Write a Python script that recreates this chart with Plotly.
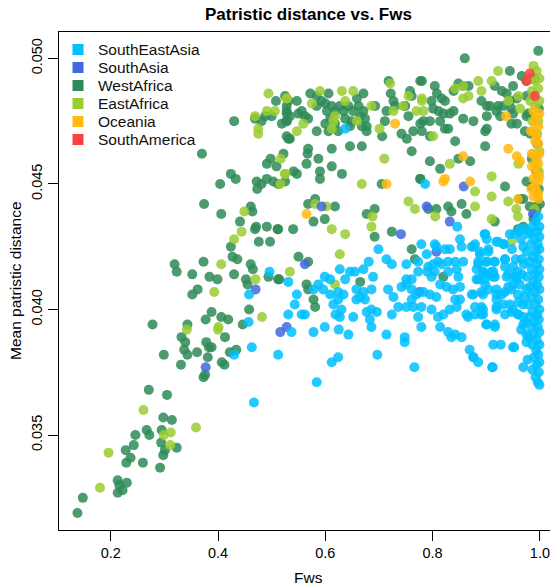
import plotly.graph_objects as go

# ---------------- data ----------------
regions = ["SouthEastAsia", "SouthAsia", "WestAfrica", "EastAfrica", "Oceania", "SouthAmerica"]
colors = ["#00BFFF", "#4169E1", "#2E8B57", "#9ACD32", "#FFB90F", "#FF4040"]

x_ticks = [0.2, 0.4, 0.6, 0.8, 1.0]
x_tick_labels = ["0.2", "0.4", "0.6", "0.8", "1.0"]
y_ticks = [0.035, 0.040, 0.045, 0.050]
y_tick_labels = ["0.035", "0.040", "0.045", "0.050"]

wa_pts = [
    (0.138, 0.0319), (0.148, 0.0325), (0.213, 0.0332), (0.216, 0.0330), (0.213, 0.0327), (0.222, 0.0328),
    (0.230, 0.0331), (0.229, 0.0339), (0.237, 0.0341), (0.260, 0.0339), (0.228, 0.0344), (0.243, 0.0346),
    (0.246, 0.0350), (0.267, 0.0352), (0.272, 0.0350), (0.292, 0.0337), (0.294, 0.0347), (0.298, 0.0342),
    (0.301, 0.0344), (0.323, 0.0345), (0.298, 0.0357), (0.314, 0.0356), (0.295, 0.0352), (0.271, 0.0368),
    (0.305, 0.0366), (0.299, 0.0382), (0.331, 0.0378), (0.332, 0.0389), (0.339, 0.0387), (0.337, 0.0384),
    (0.343, 0.0382), (0.361, 0.0383), (0.378, 0.0387), (0.383, 0.0385), (0.388, 0.0385), (0.381, 0.0381),
    (0.373, 0.0373), (0.376, 0.0374), (0.413, 0.0389), (0.407, 0.0379), (0.412, 0.0378), (0.422, 0.0383),
    (0.434, 0.0384),
    (0.404, 0.0450), (0.374, 0.0442), (0.406, 0.0438), (0.461, 0.0441), (0.464, 0.0439), (0.441, 0.0435),
    (0.471, 0.0433), (0.469, 0.0432), (0.491, 0.0433), (0.511, 0.0432), (0.476, 0.0427), (0.497, 0.0427),
    (0.424, 0.0425), (0.427, 0.0421), (0.436, 0.0420), (0.319, 0.0418), (0.323, 0.0415), (0.352, 0.0414),
    (0.373, 0.0419), (0.384, 0.0413), (0.399, 0.0412), (0.430, 0.0414), (0.461, 0.0418), (0.465, 0.0416),
    (0.452, 0.0412), (0.455, 0.0410), (0.494, 0.0413), (0.514, 0.0412), (0.362, 0.0408), (0.352, 0.0406),
    (0.458, 0.0400), (0.388, 0.0399), (0.377, 0.0396), (0.406, 0.0397), (0.419, 0.0396), (0.446, 0.0394),
    (0.278, 0.0394), (0.343, 0.0394),
    (0.430, 0.0475), (0.370, 0.0462), (0.424, 0.0454), (0.433, 0.0452), (0.472, 0.0451), (0.481, 0.0450),
    (0.491, 0.0452), (0.473, 0.0448), (0.503, 0.0451), (0.512, 0.0450), (0.491, 0.0458), (0.498, 0.0460),
    (0.509, 0.0457), (0.522, 0.0462), (0.469, 0.0476), (0.481, 0.0475), (0.488, 0.0477), (0.500, 0.0477),
    (0.508, 0.0483), (0.519, 0.0474), (0.528, 0.0481), (0.528, 0.0478), (0.528, 0.0475), (0.528, 0.0469),
    (0.525, 0.0485), (0.531, 0.0483), (0.547, 0.0483), (0.528, 0.0479), (0.534, 0.0477), (0.528, 0.0475),
    (0.550, 0.0478), (0.556, 0.0479), (0.568, 0.0476), (0.562, 0.0477), (0.572, 0.0486), (0.584, 0.0485),
    (0.584, 0.0481), (0.593, 0.0483), (0.600, 0.0482), (0.606, 0.0486), (0.603, 0.0479), (0.609, 0.0476),
    (0.612, 0.0481), (0.618, 0.0479), (0.627, 0.0481), (0.634, 0.0479), (0.637, 0.0476), (0.643, 0.0481),
    (0.649, 0.0475), (0.652, 0.0479), (0.659, 0.0484), (0.662, 0.0481), (0.665, 0.0477), (0.671, 0.0486),
    (0.671, 0.0479), (0.674, 0.0476), (0.677, 0.0473), (0.668, 0.0473), (0.646, 0.0473), (0.618, 0.0474),
    (0.624, 0.0471), (0.600, 0.0474), (0.606, 0.0471), (0.584, 0.0471), (0.531, 0.0468), (0.534, 0.0468),
    (0.677, 0.0471), (0.693, 0.0481), (0.718, 0.0491), (0.722, 0.0486), (0.727, 0.0483), (0.730, 0.0481),
    (0.758, 0.0487), (0.761, 0.0485), (0.777, 0.0491), (0.711, 0.0475), (0.714, 0.0479), (0.749, 0.0481),
    (0.755, 0.0477), (0.764, 0.0471), (0.752, 0.0468), (0.742, 0.0470), (0.777, 0.0474), (0.780, 0.0471),
    (0.706, 0.0469), (0.568, 0.0464), (0.567, 0.0462), (0.587, 0.0460), (0.612, 0.0464), (0.646, 0.0465),
    (0.668, 0.0465), (0.565, 0.0458), (0.541, 0.0455), (0.547, 0.0454), (0.590, 0.0455), (0.590, 0.0452),
    (0.612, 0.0457), (0.631, 0.0454), (0.525, 0.0451), (0.761, 0.0463), (0.777, 0.0452), (0.705, 0.0450),
    (0.997, 0.0503), (0.860, 0.0500), (0.944, 0.0495), (0.966, 0.0493), (0.780, 0.0491), (0.804, 0.0489),
    (0.848, 0.0490), (0.857, 0.0489), (0.867, 0.0489), (0.839, 0.0487), (0.808, 0.0486), (0.916, 0.0489),
    (0.929, 0.0487), (0.938, 0.0486), (0.950, 0.0489), (0.922, 0.0481), (0.932, 0.0481), (0.944, 0.0483),
    (0.957, 0.0484), (0.975, 0.0491), (0.975, 0.0485), (0.798, 0.0483), (0.817, 0.0484), (0.823, 0.0483),
    (0.801, 0.0480), (0.811, 0.0479), (0.820, 0.0478), (0.832, 0.0478), (0.839, 0.0479), (0.795, 0.0475),
    (0.814, 0.0475), (0.857, 0.0476), (0.876, 0.0475), (0.891, 0.0483), (0.901, 0.0481), (0.907, 0.0481),
    (0.901, 0.0477), (0.919, 0.0479), (0.926, 0.0477), (0.947, 0.0480), (0.950, 0.0478), (0.947, 0.0474),
    (0.957, 0.0474), (0.972, 0.0471), (0.975, 0.0477), (0.783, 0.0475), (0.823, 0.0472), (0.829, 0.0472),
    (0.795, 0.0469), (0.898, 0.0471), (0.901, 0.0472), (0.842, 0.0467), (0.898, 0.0465), (0.795, 0.0459),
    (0.814, 0.0456), (0.848, 0.0460), (0.870, 0.0459), (0.777, 0.0452), (0.935, 0.0449), (0.975, 0.0451),
    (0.963, 0.0444),
    (0.512, 0.0432), (0.540, 0.0432), (0.568, 0.0442), (0.578, 0.0435), (0.599, 0.0436), (0.618, 0.0441),
    (0.677, 0.0438), (0.692, 0.0440), (0.692, 0.0429), (0.724, 0.0431), (0.761, 0.0424), (0.767, 0.0420),
    (0.792, 0.0440), (0.807, 0.0440), (0.829, 0.0441), (0.835, 0.0439), (0.854, 0.0442), (0.863, 0.0438),
    (0.916, 0.0435), (0.550, 0.0421), (0.568, 0.0419), (0.512, 0.0412), (0.565, 0.0410), (0.568, 0.0408),
    (0.578, 0.0404), (0.581, 0.0401), (0.665, 0.0411), (0.820, 0.0413), (0.959, 0.0432), (0.969, 0.0433),
    (0.993, 0.0441), (0.990, 0.0438), (0.581, 0.0444), (0.981, 0.0441),
    (0.969, 0.0444), (0.985, 0.0449), (0.988, 0.0436), (0.994, 0.0440), (1.000, 0.0442),
    (0.982, 0.0470), (0.995, 0.0466), (0.990, 0.0492), (0.978, 0.0478), (0.998, 0.0480), (0.985, 0.0460),
    (0.993, 0.0455), (0.998, 0.0448),
]

ea_pts = [
    (0.180, 0.0329), (0.196, 0.0343), (0.261, 0.0360), (0.299, 0.0350), (0.312, 0.0351), (0.311, 0.0346),
    (0.359, 0.0353), (0.342, 0.0392), (0.400, 0.0392),
    (0.449, 0.0439), (0.444, 0.0431), (0.430, 0.0428), (0.406, 0.0418), (0.470, 0.0412), (0.393, 0.0407),
    (0.482, 0.0397), (0.401, 0.0393), (0.516, 0.0450),
    (0.494, 0.0486), (0.469, 0.0477), (0.491, 0.0479), (0.506, 0.0479), (0.475, 0.0472), (0.475, 0.0470),
    (0.528, 0.0484), (0.517, 0.0460), (0.525, 0.0454),
    (0.528, 0.0484), (0.590, 0.0487), (0.631, 0.0487), (0.652, 0.0487), (0.637, 0.0483), (0.575, 0.0482),
    (0.618, 0.0477), (0.615, 0.0475), (0.612, 0.0472), (0.659, 0.0475), (0.686, 0.0481), (0.547, 0.0471),
    (0.559, 0.0474), (0.721, 0.0490), (0.755, 0.0485), (0.745, 0.0481), (0.727, 0.0479), (0.770, 0.0479),
    (0.780, 0.0483), (0.701, 0.0472), (0.710, 0.0460), (0.668, 0.0450), (0.525, 0.0454),
    (0.922, 0.0495), (0.885, 0.0491), (0.910, 0.0491), (0.842, 0.0488), (0.857, 0.0489), (0.891, 0.0487),
    (0.857, 0.0484), (0.867, 0.0485), (0.780, 0.0484), (0.783, 0.0479), (0.960, 0.0485), (0.963, 0.0480),
    (0.941, 0.0483), (0.801, 0.0469), (0.832, 0.0458), (0.960, 0.0458), (0.910, 0.0453), (0.879, 0.0447),
    (0.910, 0.0445),
    (0.581, 0.0442), (0.602, 0.0441), (0.612, 0.0432), (0.637, 0.0430), (0.686, 0.0433), (0.688, 0.0437),
    (0.627, 0.0422), (0.534, 0.0415), (0.618, 0.0410), (0.755, 0.0443), (0.767, 0.0440), (0.805, 0.0437),
    (0.879, 0.0441), (0.910, 0.0436), (0.941, 0.0443), (0.956, 0.0440), (0.959, 0.0437), (0.947, 0.0427),
    (0.990, 0.0440),
    (0.988, 0.0497), (0.994, 0.0495), (0.991, 0.0491), (0.985, 0.0487), (0.997, 0.0488), (0.988, 0.0485),
    (0.991, 0.0481), (0.997, 0.0475), (0.999, 0.0492), (0.982, 0.0483), (0.995, 0.0470), (0.999, 0.0463),
    (0.993, 0.0459), (0.998, 0.0455), (0.986, 0.0475), (0.999, 0.0483), (0.980, 0.0492),
]

sa_pts = [
    (0.377, 0.0377), (0.516, 0.0391), (0.470, 0.0408), (0.858, 0.0449), (0.593, 0.0441), (0.789, 0.0441),
    (0.832, 0.0435), (0.741, 0.0430), (0.807, 0.0423), (0.562, 0.0418), (0.776, 0.0407), (0.528, 0.0393),
    (0.987, 0.0438),
]

sea_pts = [
    (0.430, 0.0382), (0.463, 0.0385), (0.467, 0.0363), (0.512, 0.0382), (0.496, 0.0415), (0.458, 0.0406),
    (0.457, 0.0395), (0.637, 0.0472), (0.786, 0.0450),
    (0.846, 0.0433), (0.897, 0.0430), (0.851, 0.0428), (0.919, 0.0427), (0.933, 0.0426), (0.944, 0.0430),
    (0.953, 0.0430), (0.962, 0.0431), (0.972, 0.0432), (0.981, 0.0431), (0.699, 0.0424), (0.779, 0.0426),
    (0.804, 0.0426), (0.807, 0.0425), (0.823, 0.0424), (0.832, 0.0424), (0.854, 0.0425), (0.873, 0.0425),
    (0.888, 0.0422), (0.904, 0.0423), (0.879, 0.0426), (0.789, 0.0422), (0.935, 0.0420), (0.948, 0.0424),
    (0.969, 0.0425), (0.681, 0.0419), (0.714, 0.0420), (0.724, 0.0418), (0.751, 0.0418), (0.773, 0.0419),
    (0.792, 0.0417), (0.801, 0.0418), (0.810, 0.0419), (0.817, 0.0418), (0.829, 0.0419), (0.842, 0.0419),
    (0.857, 0.0419), (0.885, 0.0419), (0.900, 0.0419), (0.915, 0.0419), (0.627, 0.0416), (0.646, 0.0415),
    (0.655, 0.0415), (0.671, 0.0416), (0.689, 0.0413), (0.599, 0.0413), (0.609, 0.0412), (0.637, 0.0412),
    (0.531, 0.0411), (0.790, 0.0415), (0.804, 0.0415), (0.773, 0.0415), (0.751, 0.0412), (0.761, 0.0412),
    (0.798, 0.0413), (0.829, 0.0415), (0.845, 0.0416), (0.848, 0.0413), (0.882, 0.0416), (0.894, 0.0415),
    (0.910, 0.0415), (0.885, 0.0412), (0.897, 0.0412), (0.913, 0.0413), (0.935, 0.0417), (0.950, 0.0417),
    (0.941, 0.0414), (0.953, 0.0413), (0.966, 0.0420), (0.966, 0.0414), (0.547, 0.0406), (0.543, 0.0402),
    (0.587, 0.0410), (0.596, 0.0408), (0.609, 0.0406), (0.578, 0.0408), (0.624, 0.0407), (0.634, 0.0406),
    (0.658, 0.0408), (0.671, 0.0407), (0.665, 0.0405), (0.686, 0.0408), (0.658, 0.0404), (0.674, 0.0404),
    (0.717, 0.0408), (0.727, 0.0405), (0.742, 0.0409), (0.751, 0.0410), (0.761, 0.0408), (0.770, 0.0406),
    (0.783, 0.0407), (0.795, 0.0406), (0.807, 0.0405), (0.814, 0.0410), (0.826, 0.0409), (0.838, 0.0408),
    (0.851, 0.0409), (0.842, 0.0404), (0.851, 0.0404), (0.876, 0.0406), (0.891, 0.0407), (0.904, 0.0408),
    (0.919, 0.0406), (0.935, 0.0407), (0.950, 0.0410), (0.959, 0.0406), (0.975, 0.0408), (0.624, 0.0404),
    (0.615, 0.0402), (0.630, 0.0400), (0.619, 0.0398), (0.627, 0.0397), (0.556, 0.0398), (0.562, 0.0398),
    (0.531, 0.0398), (0.652, 0.0397), (0.677, 0.0399), (0.686, 0.0400), (0.696, 0.0399), (0.683, 0.0396),
    (0.686, 0.0393), (0.724, 0.0398), (0.736, 0.0401), (0.751, 0.0401), (0.761, 0.0404), (0.764, 0.0401),
    (0.773, 0.0397), (0.779, 0.0401), (0.779, 0.0393), (0.798, 0.0400), (0.810, 0.0397), (0.820, 0.0398),
    (0.814, 0.0393), (0.832, 0.0400), (0.845, 0.0401), (0.863, 0.0398), (0.866, 0.0397), (0.879, 0.0398),
    (0.891, 0.0401), (0.894, 0.0398), (0.900, 0.0394), (0.916, 0.0393), (0.919, 0.0400), (0.935, 0.0398),
    (0.947, 0.0399), (0.959, 0.0398), (0.969, 0.0397), (0.578, 0.0391), (0.599, 0.0393), (0.625, 0.0392),
    (0.643, 0.0390), (0.537, 0.0391), (0.714, 0.0390), (0.748, 0.0389), (0.748, 0.0387), (0.829, 0.0391),
    (0.842, 0.0390), (0.854, 0.0389), (0.835, 0.0389), (0.913, 0.0386), (0.927, 0.0386), (0.952, 0.0385),
    (0.869, 0.0384), (0.876, 0.0381), (0.885, 0.0379), (0.911, 0.0377), (0.969, 0.0377), (0.624, 0.0381),
    (0.612, 0.0379), (0.697, 0.0382), (0.766, 0.0377), (0.584, 0.0371),
    (0.898, 0.0430), (0.901, 0.0428), (0.904, 0.0424), (0.876, 0.0425), (0.888, 0.0423), (0.922, 0.0427),
    (0.932, 0.0426), (0.963, 0.0432), (0.935, 0.0420), (0.885, 0.0418), (0.901, 0.0419), (0.916, 0.0419),
    (0.894, 0.0415), (0.901, 0.0414), (0.913, 0.0415), (0.916, 0.0413), (0.938, 0.0413), (0.882, 0.0412),
    (0.898, 0.0410), (0.873, 0.0406), (0.894, 0.0406), (0.919, 0.0408), (0.929, 0.0406), (0.941, 0.0409),
    (0.947, 0.0408), (0.957, 0.0412), (0.879, 0.0401), (0.894, 0.0400), (0.919, 0.0404), (0.932, 0.0402),
    (0.944, 0.0402), (0.950, 0.0400), (0.960, 0.0398), (0.891, 0.0398), (0.919, 0.0401), (0.901, 0.0394),
    (0.916, 0.0394), (0.969, 0.0394), (0.975, 0.0390), (0.950, 0.0385), (0.876, 0.0381), (0.912, 0.0377),
    (0.965, 0.0428), (0.970, 0.0418), (0.962, 0.0410), (0.968, 0.0402), (0.960, 0.0403), (0.973, 0.0395),
    (0.965, 0.0392), (0.975, 0.0387), (0.958, 0.0415), (0.955, 0.0420), (0.977, 0.0380),
    (0.997, 0.0437), (0.992, 0.0435), (0.999, 0.0433), (0.986, 0.0433), (0.995, 0.0431), (0.979, 0.0430),
    (0.999, 0.0429), (0.990, 0.0428), (0.996, 0.0426), (0.983, 0.0426), (0.999, 0.0424), (0.992, 0.0423),
    (0.975, 0.0423), (0.987, 0.0421), (0.998, 0.0420), (0.980, 0.0419), (0.994, 0.0418), (0.999, 0.0416),
    (0.985, 0.0416), (0.991, 0.0414), (0.976, 0.0413), (0.998, 0.0413), (0.988, 0.0411), (0.995, 0.0410),
    (0.981, 0.0409), (0.999, 0.0408), (0.991, 0.0407), (0.972, 0.0405), (0.985, 0.0405), (0.997, 0.0404),
    (0.978, 0.0402), (0.992, 0.0402), (0.999, 0.0400), (0.986, 0.0399), (0.995, 0.0398), (0.980, 0.0397),
    (0.998, 0.0396), (0.990, 0.0395), (0.984, 0.0393), (0.996, 0.0393), (0.999, 0.0391), (0.988, 0.0390),
    (0.979, 0.0389), (0.994, 0.0388), (0.999, 0.0386), (0.986, 0.0386), (0.993, 0.0384), (0.997, 0.0382),
    (0.989, 0.0381), (0.999, 0.0379), (0.994, 0.0378), (0.986, 0.0376), (0.998, 0.0375), (0.992, 0.0373),
    (0.996, 0.0371), (0.999, 0.0370),
]

oc_pts = [
    (0.730, 0.0474), (0.714, 0.0450), (0.937, 0.0477), (0.941, 0.0464), (0.957, 0.0461), (0.963, 0.0459),
    (0.857, 0.0461), (0.820, 0.0451), (0.823, 0.0452), (0.870, 0.0451), (0.565, 0.0438), (0.959, 0.0444),
    (0.997, 0.0446),
    (0.988, 0.0479), (0.994, 0.0477), (0.991, 0.0475), (0.997, 0.0473), (0.988, 0.0471), (0.994, 0.0469),
    (0.991, 0.0467), (0.997, 0.0466), (0.988, 0.0462), (0.994, 0.0460), (0.997, 0.0458), (0.991, 0.0457),
    (0.994, 0.0454), (0.988, 0.0452), (0.997, 0.0451), (0.991, 0.0449), (0.994, 0.0447), (0.988, 0.0445),
    (0.997, 0.0444), (0.999, 0.0478), (0.985, 0.0457), (0.999, 0.0462), (0.984, 0.0448), (0.999, 0.0453),
    (0.983, 0.0471), (0.985, 0.0462),
]

am_pts = [(0.975, 0.0491), (0.981, 0.0494), (0.991, 0.0485)]

# -------------------------------------------------------------------------
groups = {
    "WestAfrica": wa_pts,
    "EastAfrica": ea_pts,
    "SouthAmerica": am_pts,
    "SouthAsia": sa_pts,
    "SouthEastAsia": sea_pts,
    "Oceania": oc_pts,
}
col = dict(zip(regions, colors))

FONT = "Liberation Sans, Arial, Helvetica, sans-serif"

fig = go.Figure()
for name, pts in groups.items():
    fig.add_trace(go.Scatter(
        x=[p[0] for p in pts], y=[p[1] for p in pts], mode="markers", name=name,
        showlegend=False, hoverinfo="skip",
        marker=dict(size=10, color=col[name], opacity=0.85, line=dict(width=0)),
    ))

# Legend drawn R-style: filled squares + labels, rows 18 px apart
plot_left, plot_top, plot_w, plot_h = 59, 32, 491, 498
shapes, annotations = [], []
for i, name in enumerate(regions):
    cy = 49.5 + 18 * i
    py = (plot_top + plot_h - cy) / plot_h
    px_sq = (78 - plot_left) / plot_w
    px_tx = (96 - plot_left) / plot_w
    shapes.append(dict(type="rect", xref="paper", yref="paper", xsizemode="pixel", ysizemode="pixel",
                       xanchor=px_sq, yanchor=py, x0=-5.5, x1=5.5, y0=-5.5, y1=5.5,
                       fillcolor=col[name], line=dict(width=0)))
    annotations.append(dict(text=name, xref="paper", yref="paper", x=px_tx, y=py,
                            xanchor="left", yanchor="middle", showarrow=False,
                            font=dict(size=15.5, family=FONT, color="#111111")))

annotations += [
    dict(text="<b>Patristic distance vs. Fws</b>", xref="paper", yref="paper",
         x=0.508, y=1.036, xanchor="center", yanchor="middle", showarrow=False,
         font=dict(size=17, family=FONT)),
    dict(text="Fws", xref="paper", yref="paper", x=0.508, y=-0.096,
         xanchor="center", yanchor="middle", showarrow=False, font=dict(size=15.5, family=FONT)),
    dict(text="Mean patristic distance", xref="paper", yref="paper", x=-0.0896, y=0.5,
         xanchor="center", yanchor="middle", textangle=-90, showarrow=False,
         font=dict(size=15.5, family=FONT)),
]

fig.update_layout(
    width=550, height=586,
    margin=dict(l=59, r=0, t=32, b=56),
    paper_bgcolor="white", plot_bgcolor="white",
    font=dict(family=FONT, size=15, color="black"),
    showlegend=False,
    xaxis=dict(range=[0.1036, 1.0188], showgrid=False, zeroline=False,
               showline=True, linecolor="black", linewidth=1, mirror=True,
               ticks="outside", ticklen=10, tickcolor="black",
               tickvals=x_ticks, ticktext=x_tick_labels, tickfont=dict(size=14.5)),
    yaxis=dict(range=[0.03122, 0.05105], showgrid=False, zeroline=False,
               showline=True, linecolor="black", linewidth=1, mirror=False,
               ticks="outside", ticklen=10, tickcolor="black",
               tickvals=y_ticks, ticktext=y_tick_labels, tickangle=-90, tickfont=dict(size=14.5)),
    shapes=shapes,
    annotations=annotations,
)

fig.write_html("out.html")
